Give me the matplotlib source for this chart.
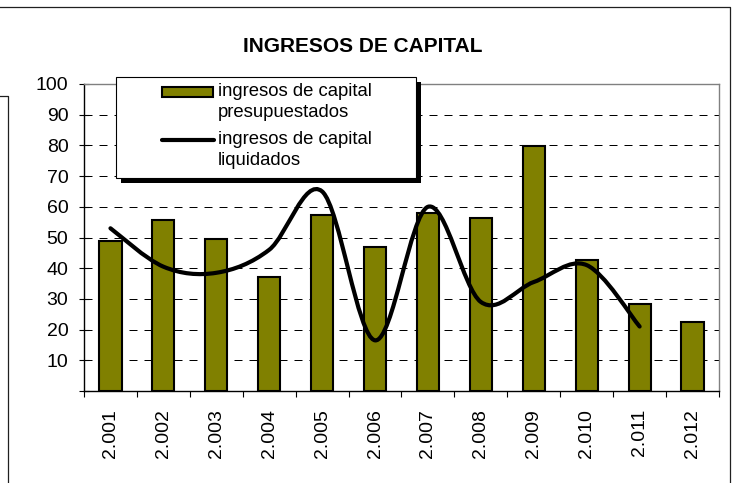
import numpy as np
import matplotlib.pyplot as plt
from matplotlib.patches import Rectangle
from matplotlib.lines import Line2D
from matplotlib.path import Path
from matplotlib.patches import PathPatch

plt.rcParams['font.family'] = ['Liberation Sans', 'DejaVu Sans']

# === datos ===
anios        = ['2.001', '2.002', '2.003', '2.004', '2.005', '2.006',
                '2.007', '2.008', '2.009', '2.010', '2.011', '2.012']
presupuestos = [49.0, 55.6, 49.4, 37.0, 57.2, 47.0, 57.9, 56.3, 79.9, 42.7, 28.4, 22.6]
liquidados   = [53.0, 40.5, 38.5, 46.0, 65.0, 16.5, 60.0, 29.0, 35.5, 41.0, 21.0]
y_ticks      = [0, 10, 20, 30, 40, 50, 60, 70, 80, 90, 100]
y_labels     = ['', '10', '20', '30', '40', '50', '60', '70', '80', '90', '100']

titulo      = 'INGRESOS DE CAPITAL'
etiq_barras = 'ingresos de capital\npresupuestados'
etiq_linea  = 'ingresos de capital\nliquidados'

W, H = 736, 483
OLIVA = '#808000'

def fx(px):
    return px / W

def fy(py):
    return 1 - py / H

fig = plt.figure(figsize=(W / 100, H / 100), dpi=100)
ax  = fig.add_axes([fx(84), fy(391), fx(719) - fx(84), fy(84) - fy(391)])

x = np.arange(len(anios))

# barras
ax.bar(x, presupuestos, width=0.42, color=OLIVA, edgecolor='black',
       linewidth=1.5, zorder=2)

# linea suavizada (bezier tipo Excel)
pts = np.column_stack([np.arange(len(liquidados)), liquidados]).astype(float)
verts = [tuple(pts[0])]
codes = [Path.MOVETO]
n = len(pts)
for i in range(n - 1):
    p0 = pts[max(i - 1, 0)]
    p1 = pts[i]
    p2 = pts[i + 1]
    p3 = pts[min(i + 2, n - 1)]
    c1 = p1 + (p2 - p0) / 6
    c2 = p2 - (p3 - p1) / 6
    verts += [tuple(c1), tuple(c2), tuple(p2)]
    codes += [Path.CURVE4] * 3
ax.add_patch(PathPatch(Path(verts, codes), facecolor='none', edgecolor='black',
                       linewidth=3, capstyle='round', joinstyle='round', zorder=3))

ax.set_xlim(-0.5, len(anios) - 0.5)
ax.set_ylim(0, 100)

# ejes
ax.set_yticks(y_ticks)
ax.set_yticklabels(y_labels, fontsize=14)
ax.tick_params(axis='y', direction='inout', length=6.5, width=0.8, pad=8)

ax.set_xticks(np.arange(len(anios) + 1) - 0.5)
ax.set_xticklabels([])
ax.set_xticks(x, minor=True)
ax.set_xticklabels(anios, minor=True, rotation=90, fontsize=14)
ax.tick_params(axis='x', which='major', direction='out', length=4, width=0.8)
ax.tick_params(axis='x', which='minor', length=0, pad=13)

for yv in y_ticks[1:-1]:
    ax.axhline(yv, color='black', linewidth=0.72, linestyle=(0, (8, 7)), zorder=1)

ax.spines['left'].set_color('black')
ax.spines['bottom'].set_color('black')
ax.spines['left'].set_linewidth(1)
ax.spines['bottom'].set_linewidth(1)
ax.spines['top'].set_color('#808080')
ax.spines['right'].set_color('#808080')
ax.spines['top'].set_linewidth(1)
ax.spines['right'].set_linewidth(1)

# titulo
fig.text(fx(363), fy(46), titulo, fontsize=15, fontweight='bold',
         ha='center', va='center')

# leyenda (caja con sombra)
lx0, ly0, lx1, ly1 = 116, 77, 416, 178
fig.add_artist(Rectangle((fx(lx0 + 5), fy(ly1 + 5)), fx(lx1 - lx0), fy(ly0) - fy(ly1),
                         facecolor='black', edgecolor='none', zorder=5))
fig.add_artist(Rectangle((fx(lx0), fy(ly1)), fx(lx1 - lx0), fy(ly0) - fy(ly1),
                         facecolor='white', edgecolor='black', linewidth=0.8, zorder=6))
fig.add_artist(Rectangle((fx(162), fy(96.5)), fx(51), fy(87) - fy(96.5),
                         facecolor=OLIVA, edgecolor='black', linewidth=1.5, zorder=7))
fig.add_artist(Line2D([fx(162), fx(214)], [fy(140), fy(140)], color='black',
                      linewidth=3, solid_capstyle='round', zorder=7))
fig.text(fx(218), fy(102), etiq_barras, fontsize=13.3, ha='left', va='center',
         linespacing=1.3, zorder=8)
fig.text(fx(218), fy(150), etiq_linea, fontsize=13.3, ha='left', va='center',
         linespacing=1.3, zorder=8)

# marcos del area del grafico
fig.add_artist(Line2D([0, fx(729.5), fx(729.5)], [fy(7), fy(7), 0],
                      color='#202020', linewidth=0.9))
fig.add_artist(Line2D([0, fx(7.5), fx(7.5)], [fy(96), fy(96), 0],
                      color='#202020', linewidth=0.9))

fig.savefig('out.png', dpi=100)
